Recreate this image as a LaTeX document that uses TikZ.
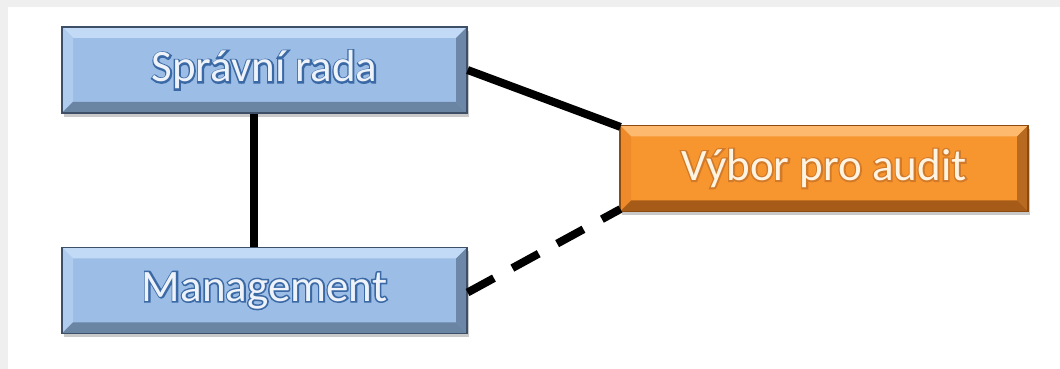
\documentclass[tikz,border=0pt]{standalone}
\usepackage{fontspec}
\setmainfont{Carlito}
\newfontfamily\outfont[FakeBold=7]{Carlito}
\newfontfamily\facefont{Carlito}
\usetikzlibrary{shadows}
\definecolor{bgray}{HTML}{EFEFEF}
\definecolor{bface}{HTML}{9CBDE5}
\definecolor{btop}{HTML}{C2DAF5}
\definecolor{bleft}{HTML}{AFCBEE}
\definecolor{bright}{HTML}{6D87A8}
\definecolor{bbot}{HTML}{6A84A4}
\definecolor{bedge}{HTML}{3E5068}
\definecolor{oface}{HTML}{F7952F}
\definecolor{otop}{HTML}{FDBA6E}
\definecolor{oleft}{HTML}{EE8A2A}
\definecolor{oright}{HTML}{B86A20}
\definecolor{obot}{HTML}{A65C18}
\definecolor{oedge}{HTML}{8A4A10}
\definecolor{bline}{HTML}{3A68A6}
\definecolor{oline}{HTML}{D07A28}
\newcommand{\bv}{11pt}
\tikzset{
  bevel/.style n args={4}{path picture={
    \fill[#1] (path picture bounding box.north west) -- (path picture bounding box.north east)
      -- ([shift={(-\bv,-\bv)}]path picture bounding box.north east) -- ([shift={(\bv,-\bv)}]path picture bounding box.north west) -- cycle;
    \fill[#2] (path picture bounding box.north west) -- ([shift={(\bv,-\bv)}]path picture bounding box.north west)
      -- ([shift={(\bv,\bv)}]path picture bounding box.south west) -- (path picture bounding box.south west) -- cycle;
    \fill[#3] (path picture bounding box.north east) -- ([shift={(-\bv,-\bv)}]path picture bounding box.north east)
      -- ([shift={(-\bv,\bv)}]path picture bounding box.south east) -- (path picture bounding box.south east) -- cycle;
    \fill[#4] (path picture bounding box.south west) -- ([shift={(\bv,\bv)}]path picture bounding box.south west)
      -- ([shift={(-\bv,\bv)}]path picture bounding box.south east) -- (path picture bounding box.south east) -- cycle;
  }},
  box/.style={rectangle, minimum height=86pt, inner sep=0pt, line width=1.2pt,
    drop shadow={shadow xshift=2pt, shadow yshift=-4pt, opacity=0.35, fill=black!60}},
  bluebox/.style={box, minimum width=405pt, fill=bface, draw=bedge, bevel={btop}{bleft}{bright}{bbot}},
  orangebox/.style={box, minimum width=408pt, fill=oface, draw=oedge, bevel={otop}{oleft}{oright}{obot}},
  conn/.style={line width=8pt, black},
}
\newcommand{\btext}[1]{{\fontsize{45}{48}\selectfont\rlap{\outfont\color{bline}\special{pdf:literal 0.23 0.41 0.65 RG}#1}\facefont\color[HTML]{EEF3FA}#1}}
\newcommand{\otext}[1]{{\fontsize{45}{48}\selectfont\rlap{\outfont\color{oline}\special{pdf:literal 0.82 0.48 0.16 RG}#1}\facefont\color[HTML]{FFF3E2}#1}}
\begin{document}
\begin{tikzpicture}[x=1pt,y=1pt]
\fill[bgray] (0,0) rectangle (1060,369);
\fill[white] (8,0) rectangle (1060,362);
\useasboundingbox (0,0) rectangle (1060,369);
\node[bluebox] (sr) at (264.5,299) {\btext{Správní rada}};
\node[bluebox] (mg) at (264.5,78.5) {\btext{Management}};
\node[orangebox] (va) at (824,200.5) {\otext{Výbor pro audit}};
\draw[conn] ([xshift=-11pt]sr.south) -- ([xshift=-11pt]mg.north);
\draw[conn] (sr.east) -- ([shift={(1pt,-2pt)}]va.north west);
\draw[conn, dash pattern=on 30pt off 21pt] ([yshift=-2pt]mg.east) -- ([shift={(1pt,3pt)}]va.south west);
\end{tikzpicture}
\end{document}
